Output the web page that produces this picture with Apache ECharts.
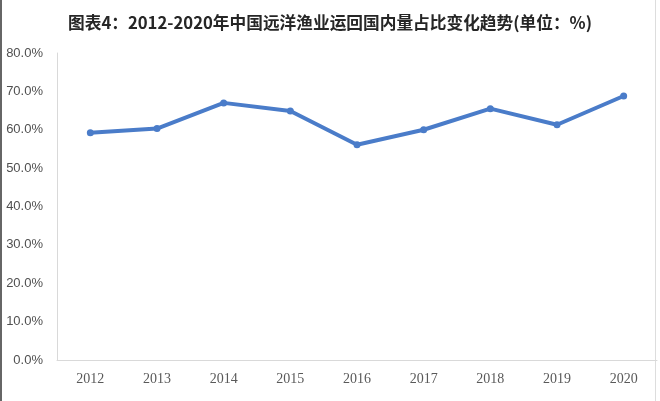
<!DOCTYPE html>
<html><head><meta charset="utf-8">
<script src="https://cdn.jsdelivr.net/npm/echarts@6/dist/echarts.min.js"></script>
<style>html,body{margin:0;padding:0;background:#fff}#c{width:660px;height:401px}</style>
</head><body><div id="c"></div>
<script>
const titleText = '图表4：2012-2020年中国远洋渔业运回国内量占比变化趋势(单位：%)';
const years = ['2012','2013','2014','2015','2016','2017','2018','2019','2020'];
const shares = [59.2, 60.3, 67.0, 64.9, 56.1, 60.0, 65.5, 61.3, 68.8];
const yMin = 0, yMax = 80, yStep = 10;

const chart = echarts.init(document.getElementById('c'), null, {renderer:'canvas'});
chart.setOption({
  animation: false,
  backgroundColor: '#fff',
  title: {
    text: titleText, left: 'center', top: 9,
    textStyle: {fontFamily: 'Noto Sans CJK SC', fontWeight: 'bold', fontSize: 16.7, color: '#262626'}
  },
  graphic: [
    {type:'rect', shape:{x:0,y:0,width:2,height:401}, style:{fill:'#666'}},
    {type:'rect', shape:{x:655,y:0,width:1,height:401}, style:{fill:'#ddd'}}
  ],
  grid: {left: 57, right: 3, top: 53, bottom: 41},
  xAxis: {
    type: 'category', data: years, boundaryGap: true,
    axisLine: {lineStyle: {color: '#d9d9d9', width: 1}},
    axisTick: {show: false},
    axisLabel: {fontFamily: 'Liberation Serif', fontSize: 14, color: '#595959', margin: 12}
  },
  yAxis: {
    type: 'value', min: yMin, max: yMax, interval: yStep,
    axisLine: {show: true, lineStyle: {color: '#d9d9d9', width: 1}},
    axisTick: {show: false},
    splitLine: {show: false},
    axisLabel: {fontFamily: 'Liberation Sans', fontSize: 13, color: '#505050', margin: 14,
      formatter: v => v.toFixed(1) + '%'}
  },
  series: [{
    type: 'line', data: shares,
    lineStyle: {color: '#4a7cc9', width: 4},
    itemStyle: {color: '#4a7cc9'},
    symbol: 'circle', symbolSize: 7
  }]
});
</script></body></html>
